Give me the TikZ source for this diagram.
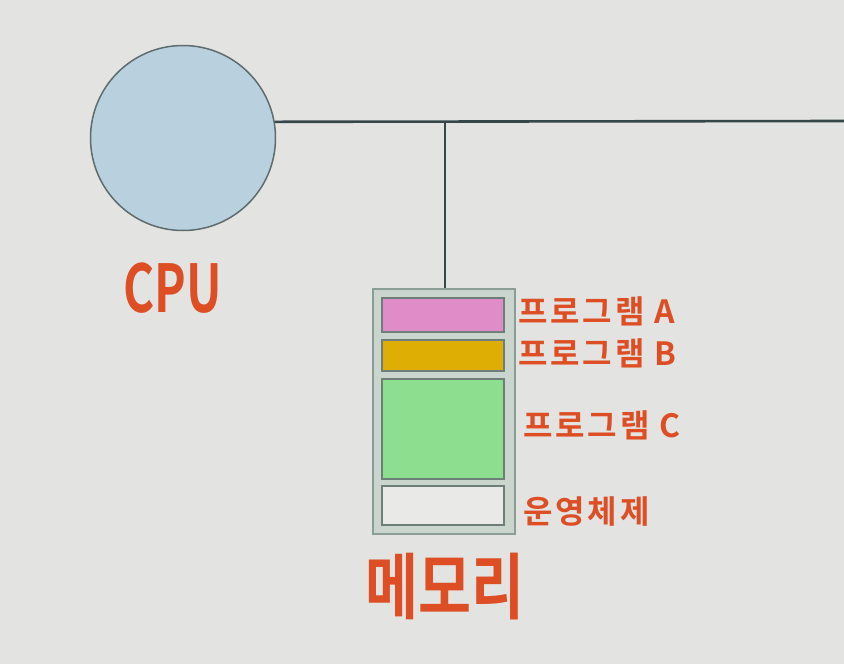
\documentclass[tikz,border=0pt]{standalone}
\usepackage{fontspec}
\newfontfamily\kr{Noto Sans CJK KR}[BoldFont={Noto Sans CJK KR Bold}]
\newfontfamily\krs{Noto Sans CJK KR}[BoldFont={Noto Sans CJK KR Bold},LetterSpace=9]
\usepackage{graphicx}
\definecolor{bg}{HTML}{E3E3E1}
\definecolor{cpufill}{HTML}{B9D1DF}
\definecolor{wire}{HTML}{36474A}
\definecolor{lbl}{HTML}{DE4E24}
\definecolor{memfill}{HTML}{CAD5CE}
\definecolor{memdraw}{HTML}{8A9E96}
\definecolor{pa}{HTML}{DF8CC9}
\definecolor{pb}{HTML}{DFAE05}
\definecolor{pc}{HTML}{8EDE8F}
\definecolor{os}{HTML}{E9EAE8}
\tikzset{
  wireline/.style={draw=wire, line width=2.6pt},
  slot/.style={draw=memdraw!80!black, line width=1.5pt, inner sep=0pt, minimum width=122pt, anchor=north west},
  lab/.style={text=lbl, font=\kr\bfseries, inner sep=0pt},
  slab/.style={text=lbl, font=\krs\bfseries\fontsize{32}{32}\selectfont, inner sep=0pt, anchor=west},
}
\newcommand{\sq}[2][0.8]{\scalebox{#1}[1]{#2}}
\begin{document}
\begin{tikzpicture}[x=1pt,y=-1pt]
\fill[bg] (0,0) rectangle (844,664);
\useasboundingbox (0,0) rectangle (844,664);
\node[circle, minimum size=185pt, inner sep=0pt, fill=cpufill, draw=wire!80, line width=1.5pt] (cpu) at (183,138) {};
\coordinate (busend) at (844,121);
\coordinate (tap) at (445,121);
\node[draw=memdraw, fill=memfill, line width=2pt, minimum width=142pt, minimum height=245pt, inner sep=0pt, anchor=north west] (mem) at (372,288) {};
\node[slot, fill=pa, minimum height=34pt] (a) at (381,297) {};
\node[slot, fill=pb, minimum height=31pt] (b) at (381,339) {};
\node[slot, fill=pc, minimum height=100pt] (c) at (381,378) {};
\node[slot, fill=os, minimum height=39pt] (o) at (381,485) {};
\draw[wireline] (cpu.10.6) -- (busend);
\draw[wireline] (tap) -- (tap |- mem.north);
\node[lab, font=\kr\bfseries\fontsize{66}{66}\selectfont] (cpulab) at (173,288) {\sq[0.72]{CPU}};
\node[slab] (la) at (518,311) {프로그램 A};
\node[slab] (lb) at (518,353) {프로그램 B};
\node[slab] (lc) at (523,425) {프로그램 C};
\node[slab] (lo) at (523,512) {운영체제};
\node[lab, font=\kr\bfseries\fontsize{72}{72}\selectfont] (memlab) at (445,587) {\sq[0.8]{메모리}};
\end{tikzpicture}
\end{document}
